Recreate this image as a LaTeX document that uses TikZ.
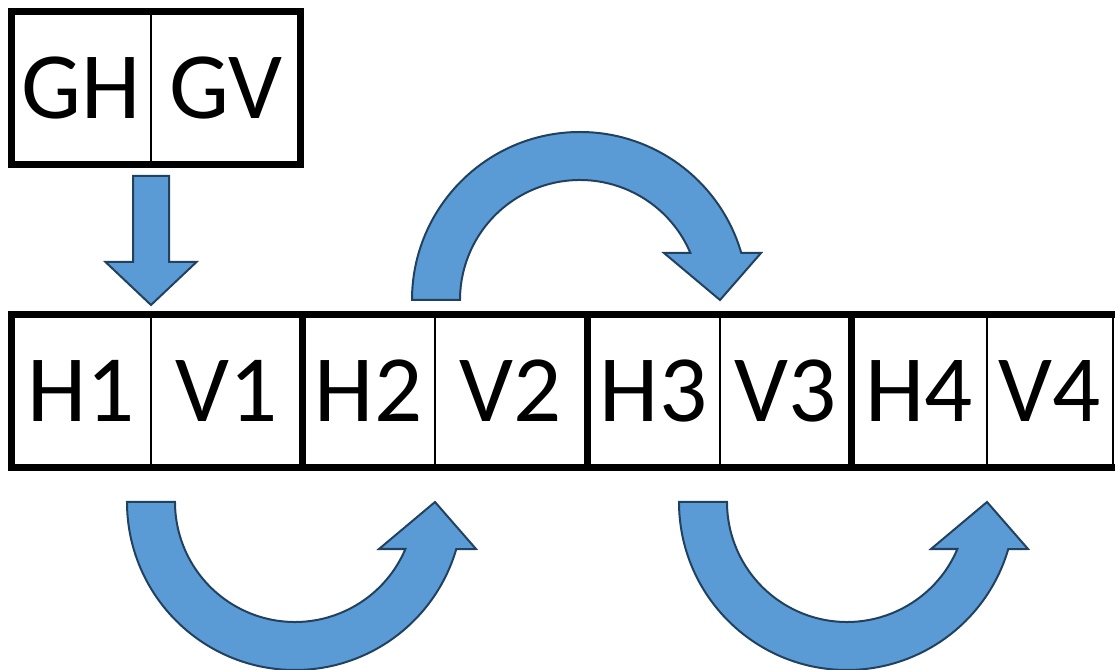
\documentclass[tikz,border=0pt]{standalone}
\usepackage{fontspec}
\setmainfont{Carlito}
\usetikzlibrary{positioning,calc}
\definecolor{arrowfill}{HTML}{5B9BD5}
\definecolor{arrowline}{HTML}{22415F}
\tikzset{
  arrowbody/.style={fill=arrowfill, draw=arrowline, line width=2pt, line join=miter},
  bentarrow/.pic={
    \filldraw[arrowbody] (-308,0) arc[start angle=180, end angle=16.25, radius=168pt]
      -- (41,47) -- (0,0) -- (-56,47) -- (-29.6,47)
      arc[start angle=23.06, end angle=180, radius=120pt] -- cycle;
  },
  downarrow/.pic={
    \filldraw[arrowbody] (0,0) -- (45.5,43) -- (18,43) -- (18,129)
      -- (-18,129) -- (-18,43) -- (-45.5,43) -- cycle;
  }
}
\begin{document}
\begin{tikzpicture}[
    x=1pt, y=1pt,
    node distance=0pt,
    cell/.style={draw, line width=1.5pt, minimum height=153pt, inner sep=0pt, outer sep=0pt,
      font=\fontsize{95}{100}\selectfont},
    frame/.style={draw, line width=7pt}
]
\useasboundingbox (0,0) rectangle (1115,669);
\clip (0,0) rectangle (1115,669);

\node[cell, minimum width=139.5pt] (GH) at (81.25,581) {GH};
\node[cell, minimum width=149.5pt, right=of GH] (GV) {GV};

\node[cell, minimum width=139.5pt] (H1) at (81.25,278) {H1};
\node[cell, minimum width=151pt, right=of H1] (V1) {V1};
\node[cell, minimum width=133pt, right=of V1] (H2) {H2};
\node[cell, minimum width=152pt, right=of H2] (V2) {V2};
\node[cell, minimum width=133pt, right=of V2] (H3) {H3};
\node[cell, minimum width=131pt, right=of H3] (V3) {V3};
\node[cell, minimum width=136pt, right=of V3] (H4) {H4};
\node[cell, minimum width=126pt, right=of H4] (V4) {V4};

\draw[frame] (GH.north west) rectangle (GV.south east);
\foreach \a/\b in {H1/V1, H2/V2, H3/V3}
  \draw[frame] (\a.north west) rectangle (\b.south east);
\draw[frame] (H4.north west) rectangle ($(V4.south east)+(12,0)$);

\pic at ($(V1.north west)+(0,9.5)$) {downarrow};
\pic at ($(V3.north west)+(0,14.5)$) {bentarrow};
\pic[yscale=-1] at ($(V2.south west)+(0,-34.5)$) {bentarrow};
\pic[yscale=-1] at ($(V4.south west)+(0,-34.5)$) {bentarrow};
\end{tikzpicture}
\end{document}
